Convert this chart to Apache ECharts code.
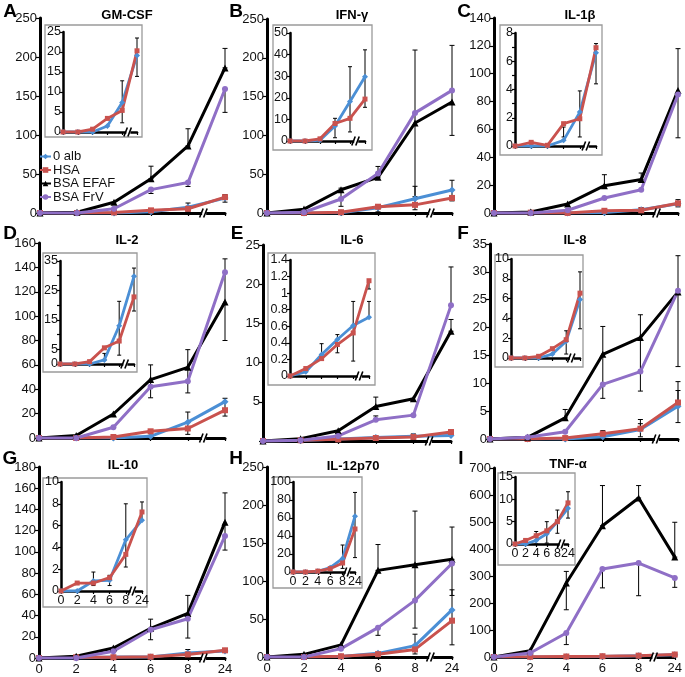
<!DOCTYPE html>
<html><head><meta charset="utf-8">
<script src="https://cdn.jsdelivr.net/npm/echarts@6/dist/echarts.min.js"></script>
<style>html,body{margin:0;padding:0;background:#fff}#c{width:685px;height:677px}</style>
</head><body><div id="c"></div>
<script>
// ---------- data ----------
const timeLabels = ['0','2','4','6','8','24'];
const seriesNames = ['0 alb','HSA','BSA EFAF','BSA FrV'];

// A GM-CSF
const gm_alb  = [0, 0, 0, 1.5, 7.4, 19.1];
const gm_hsa  = [0, 0, 0.7, 3.4, 5.4, 20.3];
const gm_efaf = [0, 1, 13.7, 44, 86, 186];
const gm_frv  = [0, 0, 5.5, 30, 39, 159];
const gm_errMain = [[3, 44, 60], [4, 86, 108], [5, 186, 211], [3, 25, 30], [4, 34, 39], [5, 129, 159]];
const gm_errLow  = [[4, 2.3, 12.8], [5, 13.9, 23.5]];

// B IFN-gamma
const ifn_alb  = [0, 0, 0.3, 6.9, 18.3, 29.7];
const ifn_hsa  = [0, 0, 1, 8.1, 10.5, 19.4];
const ifn_efaf = [0, 5, 30, 46, 116, 143];
const ifn_frv  = [0, 1, 18, 51, 129, 158];
const ifn_errMain = [[2, 8.6, 32], [3, 46, 60], [4, 21, 210], [5, 100, 216]];
const ifn_errLow  = [[3, 1.5, 10.5], [4, 4.2, 34.4], [5, 15.6, 42.2]];

// C IL-1beta
const il1_alb  = [0, 0, 0, 0.4, 2.4, 6.6];
const il1_hsa  = [0, 0.26, 0.05, 1.58, 1.93, 6.96];
const il1_efaf = [0, 0.7, 6.5, 19.6, 24, 88];
const il1_frv  = [0, 0, 2, 10.8, 16.7, 85];
const il1_errMain = [[3, 19.6, 27.5], [4, 24, 28.7], [5, 54, 118], [5, 6.96, 9.6]];
const il1_errLow  = [[3, 0.64, 1.34], [4, 0.64, 3.9], [5, 4.4, 7.25]];

// D IL-2
const il2_alb  = [0, 0, 0, 1.4, 13, 29.8];
const il2_hsa  = [0, 0, 0.8, 5.5, 7.8, 22.8];
const il2_efaf = [0, 2, 19.7, 47.9, 58, 111.6];
const il2_frv  = [0, 0, 8.8, 42, 46.5, 136];
const il2_errMain = [[3, 33, 60], [4, 37, 72.5], [5, 80, 147]];
const il2_errLow  = [[3, 1.4, 3.6], [4, 3, 21.3], [5, 18, 32.6]];
const il2_insetLabels = [0, 5, 15, 25, 35];

// E IL-6
const il6_alb  = [0, 0.05, 0.26, 0.44, 0.61, 0.71];
const il6_hsa  = [0, 0.09, 0.21, 0.38, 0.52, 1.15];
const il6_efaf = [0, 0.3, 1.3, 4.4, 5.4, 14];
const il6_frv  = [0, 0.1, 0.64, 2.7, 3.3, 17.3];
const il6_errMain = [[3, 4.4, 5.6], [5, 14, 15.5], [3, 2.7, 3.2], [5, 17.3, 22.2]];
const il6_errLow  = [[2, 0.26, 0.39], [3, 0.28, 0.5], [4, 0.18, 0.9], [5, 0.71, 0.9], [5, 1.05, 1.15]];

// F IL-8
const il8_alb  = [0, 0, 0, 0.4, 1.7, 5.9];
const il8_hsa  = [0, 0, 0.17, 0.94, 1.85, 6.55];
const il8_efaf = [0, 0.3, 3.8, 15.2, 18.2, 26.4];
const il8_frv  = [0, 0.3, 1.3, 9.8, 12.1, 26.6];
const il8_errMain = [[2, 3.8, 5.3], [3, 7.3, 20.2], [4, 8.6, 22.3], [5, 13, 32.9], [3, 0.94, 1.5], [4, 1.85, 3.5], [5, 6.55, 10.3]];
const il8_errLow  = [[4, 0.4, 2.75], [5, 2.95, 8.7]];

// G IL-10
const il10_alb  = [0, 0, 0.92, 0.98, 4.7, 6.5];
const il10_hsa  = [0, 0.73, 0.73, 1.22, 3.36, 7.25];
const il10_efaf = [0, 1.6, 9.4, 28, 42, 128];
const il10_frv  = [0, 0, 6.3, 26.6, 37, 115];
const il10_errMain = [[3, 17.2, 36.6], [4, 18.8, 59], [5, 101.7, 155.6]];
const il10_errLow  = [[2, 0.5, 1.74], [3, 0.5, 1.44], [4, 2.2, 8], [5, 6.5, 8.17]];

// H IL-12p70
const il12_alb  = [0, 0, 0.7, 4.8, 15, 62];
const il12_hsa  = [0, 0, 1, 3.7, 10, 47.8];
const il12_efaf = [0, 3.5, 16, 114, 121.5, 128.5];
const il12_frv  = [0, 0, 11, 38.6, 74.5, 123];
const il12_errMain = [[3, 114, 148], [3, 28.5, 38.6], [4, 38, 192], [5, 128.5, 171], [5, 81, 123]];
const il12_errLow  = [[4, 4, 30], [5, 16, 88.4]];

// I TNF-alpha
const tnf_alb  = [0, 0, 0.8, 2.3, 5, 8];
const tnf_hsa  = [0, 0.8, 1.85, 2.95, 5, 9.2];
const tnf_efaf = [0, 23.5, 274, 486, 589, 370];
const tnf_frv  = [0, 15, 89, 326, 348, 293];
const tnf_errMain = [[2, 175, 317], [3, 486, 635], [4, 589, 635], [5, 370, 499], [2, 46, 89], [3, 256, 326], [4, 227, 348], [5, 258, 293]];
const tnf_errLow  = [[2, 0, 2.8], [3, 0.2, 5], [4, 2.4, 7.6], [5, 5.8, 11.7]];

// ---------- styling / layout ----------
const FF = 'Liberation Sans, Arial, Helvetica, sans-serif';
const colors = ['#4b8fd5', '#c9524e', '#000000', '#8f6fc6'];
const symbols = ['diamond', 'rect', 'triangle', 'circle'];
const symSizes = [7, 6, 7, 6];
const breakAt = 4.45;

const panels = [
  {letter:'A', title:'GM-CSF', d:[gm_alb,gm_hsa,gm_efaf,gm_frv], eM:gm_errMain, eL:gm_errLow,
   main:{left:40,top:18,width:185,height:195,max:250,step:50}, inset:{left:63,top:32,width:74,height:100,max:25,step:5},
   box:[45,25,97,112], bottom:false, tp:[127,15], lp:[10,12]},
  {letter:'B', title:'IFN-\u03b3', d:[ifn_alb,ifn_hsa,ifn_efaf,ifn_frv], eM:ifn_errMain, eL:ifn_errLow,
   main:{left:267,top:19,width:185,height:194,max:250,step:50}, inset:{left:290,top:33,width:75,height:108,max:50,step:10},
   box:[273,25,99,125], bottom:false, tp:[352,15], lp:[236,12]},
  {letter:'C', title:'IL-1\u03b2', d:[il1_alb,il1_hsa,il1_efaf,il1_frv], eM:il1_errMain, eL:il1_errLow,
   main:{left:494,top:18,width:184,height:195,max:140,step:20}, inset:{left:515,top:33,width:81,height:113,max:8,step:2,minor:true},
   box:[500,25,102,130], bottom:false, tp:[580,15], lp:[464,12]},
  {letter:'D', title:'IL-2', d:[il2_alb,il2_hsa,il2_efaf,il2_frv], eM:il2_errMain, eL:il2_errLow,
   main:{left:39,top:243,width:186,height:195,max:160,step:20}, inset:{left:60,top:261,width:74,height:103,max:35,step:5,labels:il2_insetLabels},
   box:[43,253,94,119], bottom:false, tp:[127,240], lp:[10,234]},
  {letter:'E', title:'IL-6', d:[il6_alb,il6_hsa,il6_efaf,il6_frv], eM:il6_errMain, eL:il6_errLow,
   main:{left:263,top:245,width:188,height:196,max:25,step:5,hideZero:true}, inset:{left:290,top:260,width:79,height:116,max:1.4,step:0.2},
   box:[268,253,107,132], bottom:false, tp:[352,240], lp:[237,234]},
  {letter:'F', title:'IL-8', d:[il8_alb,il8_hsa,il8_efaf,il8_frv], eM:il8_errMain, eL:il8_errLow,
   main:{left:490,top:244,width:188,height:195,max:35,step:5}, inset:{left:511,top:259,width:69,height:99,max:10,step:2},
   box:[495,255,88,112], bottom:false, tp:[575,240], lp:[463,234]},
  {letter:'G', title:'IL-10', d:[il10_alb,il10_hsa,il10_efaf,il10_frv], eM:il10_errMain, eL:il10_errLow,
   main:{left:39,top:467,width:186,height:191,max:180,step:20}, inset:{left:61,top:482,width:81,height:109,max:10,step:2},
   box:[43,478,104,129], bottom:true, tp:[123,465], lp:[10,459]},
  {letter:'H', title:'IL-12p70', d:[il12_alb,il12_hsa,il12_efaf,il12_frv], eM:il12_errMain, eL:il12_errLow,
   main:{left:267,top:467,width:185,height:190,max:250,step:50}, inset:{left:293,top:482,width:62,height:90,max:100,step:20},
   box:[273,477,89,111], bottom:true, tp:[353,466], lp:[236,459]},
  {letter:'I', title:'TNF-\u03b1', d:[tnf_alb,tnf_hsa,tnf_efaf,tnf_frv], eM:tnf_errMain, eL:tnf_errLow,
   main:{left:494,top:468,width:184,height:189,max:700,step:100}, inset:{left:515,top:477,width:53,height:67,max:15,step:5},
   box:[498,473,77,92], bottom:true, tp:[568,464], lp:[461,459]}
];

function errRender(capW){
  return function(params, api){
    const x = api.value(0), lo = api.value(1), hi = api.value(2);
    const p1 = api.coord([x, lo]), p2 = api.coord([x, hi]);
    const st = {stroke:'#000', lineWidth:1};
    return {type:'group', children:[
      {type:'line', shape:{x1:p1[0],y1:p1[1],x2:p2[0],y2:p2[1]}, style:st},
      {type:'line', shape:{x1:p1[0]-capW,y1:p1[1],x2:p1[0]+capW,y2:p1[1]}, style:st},
      {type:'line', shape:{x1:p2[0]-capW,y1:p2[1],x2:p2[0]+capW,y2:p2[1]}, style:st}
    ]};
  };
}
function breakRender(params, api){
  const p = api.coord([api.value(0), api.value(1)]);
  const h = 4.5;
  return {type:'group', children:[
    {type:'rect', shape:{x:p[0]-2.5, y:p[1]-3, width:4, height:6}, style:{fill:'#fff'}},
    {type:'line', shape:{x1:p[0]-5,y1:p[1]+h,x2:p[0]-1.5,y2:p[1]-h}, style:{stroke:'#000',lineWidth:1.6}},
    {type:'line', shape:{x1:p[0]-1,y1:p[1]+h,x2:p[0]+2.5,y2:p[1]-h}, style:{stroke:'#000',lineWidth:1.6}}
  ]};
}

const grid = [], xAxis = [], yAxis = [], series = [], graphic = [];

panels.forEach((p, pi) => {
  const gM = pi*2, gI = pi*2+1;
  grid.push({left:p.main.left, top:p.main.top, width:p.main.width, height:p.main.height, containLabel:false});
  grid.push({left:p.inset.left, top:p.inset.top, width:p.inset.width, height:p.inset.height, containLabel:false});
  [[gM, p.main, false], [gI, p.inset, true]].forEach(([gi, cfg, inset]) => {
    xAxis.push({type:'value', gridIndex:gi, min:0, max:5, interval:1,
      axisLine:{show:true, onZero:false, lineStyle:{color:'#000', width: inset?2.5:3}},
      axisTick:{show:true, length:3, lineStyle:{color:'#000', width:1.2}},
      axisLabel:{show:p.bottom, fontSize: inset?12.5:13, color:'#111', margin: inset?3:5, fontFamily:FF,
        formatter: v => (timeLabels[v] !== undefined ? timeLabels[v] : '')},
      splitLine:{show:false}});
    let fmt = v => String(v);
    if (cfg.labels) { const L = cfg.labels; fmt = v => (L.indexOf(v) >= 0 ? String(v) : ''); }
    if (cfg.hideZero) fmt = v => (v === 0 ? '' : String(v));
    yAxis.push({type:'value', gridIndex:gi, min:0, max:cfg.max, interval:cfg.step,
      axisLine:{show:true, onZero:false, lineStyle:{color:'#000', width: inset?2.5:3}},
      axisTick:{show:true, length: inset?3:4, lineStyle:{color:'#000', width:1.2}},
      minorTick:{show:!!cfg.minor, splitNumber:2, length:3, lineStyle:{color:'#000', width:1.2}},
      axisLabel:{fontSize: inset?12.5:13, color:'#111', margin: inset?2:3, fontFamily:FF, formatter:fmt},
      splitLine:{show:false}});
  });
  // error bars
  series.push({type:'custom', xAxisIndex:gM, yAxisIndex:gM, renderItem:errRender(2.5), data:p.eM.concat(p.eL), encode:{x:0, y:[1,2]}, z:1, silent:true});
  series.push({type:'custom', xAxisIndex:gI, yAxisIndex:gI, renderItem:errRender(2), data:p.eL, encode:{x:0, y:[1,2]}, z:1, silent:true});
  // main lines
  p.d.forEach((arr, si) => {
    series.push({type:'line', name:seriesNames[si], xAxisIndex:gM, yAxisIndex:gM,
      data: arr.map((v,i) => [i, v]), symbol:symbols[si], symbolSize:symSizes[si],
      lineStyle:{width:3, color:colors[si]}, itemStyle:{color:colors[si]}, z:2});
  });
  // inset lines (0 alb, HSA)
  [0,1].forEach(si => {
    series.push({type:'line', name:seriesNames[si], xAxisIndex:gI, yAxisIndex:gI,
      data: p.d[si].map((v,i) => [i, v]), symbol:symbols[si], symbolSize:symSizes[si]-1,
      lineStyle:{width:2.8, color:colors[si]}, itemStyle:{color:colors[si]}, z:2});
  });
  // axis breaks
  series.push({type:'custom', xAxisIndex:gM, yAxisIndex:gM, renderItem:breakRender, data:[[breakAt, 0]], z:5, silent:true});
  series.push({type:'custom', xAxisIndex:gI, yAxisIndex:gI, renderItem:breakRender, data:[[breakAt, 0]], z:5, silent:true});
  // inset frame
  graphic.push({type:'rect', shape:{x:p.box[0], y:p.box[1], width:p.box[2], height:p.box[3]},
    style:{fill:'none', stroke:'#9a9a9a', lineWidth:1.3}, z:0, silent:true});
  // titles
  graphic.push({type:'text', x:p.tp[0], y:p.tp[1], style:{text:p.title, font:'bold 13px ' + FF, fill:'#000', textAlign:'center', textVerticalAlign:'middle'}});
  graphic.push({type:'text', x:p.lp[0], y:p.lp[1], style:{text:p.letter, font:'bold 19px ' + FF, fill:'#000', textAlign:'center', textVerticalAlign:'middle'}});
});

const chart = echarts.init(document.getElementById('c'), null, {renderer:'canvas'});
chart.setOption({
  animation:false,
  backgroundColor:'#fff',
  textStyle:{fontFamily:FF},
  legend:{data:seriesNames, orient:'vertical', left:39, top:150, padding:0, itemGap:0.5,
    itemWidth:11, itemHeight:7, textStyle:{fontSize:13, color:'#111', fontFamily:FF, lineHeight:12, padding:[0,0,0,-3]}},
  grid, xAxis, yAxis, series, graphic
});
</script>
</body></html>
